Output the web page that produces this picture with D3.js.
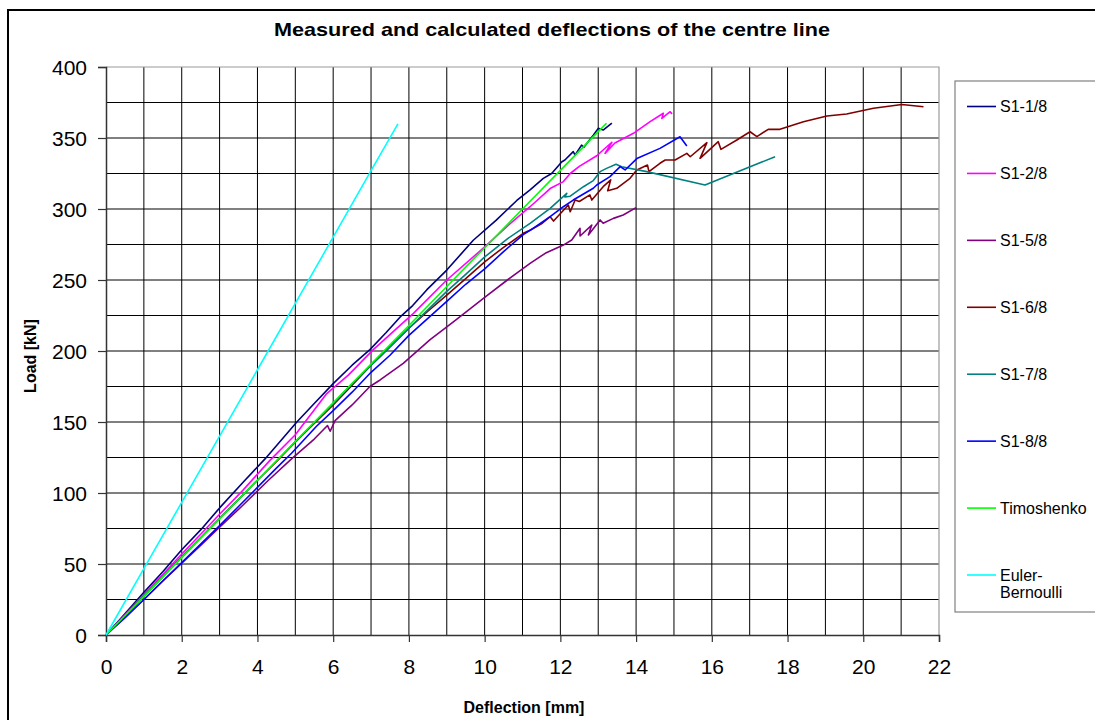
<!DOCTYPE html>
<html>
<head>
<meta charset="utf-8">
<script src="https://cdn.jsdelivr.net/npm/d3@7"></script>
<style>
  html, body { margin: 0; padding: 0; background: #fff; }
  svg { display: block; font-family: "Liberation Sans", Arial, sans-serif; }
</style>
</head>
<body>
<svg id="chart" width="1095" height="720"></svg>
<script>
// Load–deflection readings, [deflection mm, load kN]
const s1_1_8 = [[0,0],[0.5,15],[1,30],[1.5,44.5],[2,60],[2.5,74],[3,89.5],[3.67,109],[4.2,124],[5.04,150],[5.5,163],[6,177],[6.5,190],[6.97,201],[7.4,213],[7.77,224],[8.1,232],[8.47,243],[9,257],[9.7,278],[10.3,292],[10.85,306],[11.2,313.4],[11.55,321.6],[11.77,325],[12.04,333.3],[12.12,334.5],[12.34,340.4],[12.39,338],[12.56,345],[12.62,343.5],[12.87,352],[13.0,356.8],[13.13,355.6],[13.36,360.4]];
const s1_2_8 = [[0,0],[0.5,14],[1,28.5],[1.5,42.5],[2,57],[2.5,71],[3,85],[3.62,102],[4.33,123],[5,141],[5.83,170],[6.4,183],[7.06,201],[7.6,214],[8.12,226.5],[9,250],[10.01,273.5],[10.6,288],[11.2,301.6],[11.73,314.4],[12.08,319.3],[12.26,325],[12.5,330],[12.96,337.5],[13.36,347],[13.18,339.2],[13.44,346.5],[13.93,353.3],[14.37,361.5],[14.72,367.4],[14.68,363.8],[14.9,368.5],[14.95,367]];
const s1_5_8 = [[0,0],[0.5,12.5],[1,25],[1.5,38],[2,50.5],[2.5,63],[3,76],[3.6,91],[4.29,109],[4.9,124],[5.5,138],[5.85,147.5],[5.92,143.5],[6.05,151],[6.5,162],[6.97,175],[7.24,179.6],[7.85,191.3],[8.56,208],[9.2,221],[10.01,238],[10.6,250],[11.2,261.7],[11.6,268.8],[12.08,274.6],[12.3,278.2],[12.52,286.4],[12.52,281],[12.83,288.7],[12.74,281.7],[13.05,292.3],[13.13,290],[13.4,293.4],[13.66,295.8],[14.0,301]];
const s1_6_8 = [[0,0],[0.5,13.5],[1,27.5],[1.5,41],[2,55],[2.5,68.5],[3,82],[3.5,95.5],[4,109],[4.5,122],[5,136],[5.5,149],[6,162],[6.5,176],[7,190],[7.24,196],[8,216],[8.5,228],[9,239.4],[9.5,251],[10.01,263],[10.5,273],[11.02,282.9],[11.2,285],[11.5,289.5],[11.73,294.6],[11.82,291.5],[12.21,302.8],[12.26,298.1],[12.39,306.3],[12.5,305.3],[12.78,309.9],[12.83,306.3],[13.13,315.7],[13.33,320.5],[13.25,312.8],[13.49,314.6],[13.84,321.6],[14.02,327.5],[14.3,331],[14.34,326.3],[14.63,332.2],[14.77,334.5],[15.03,334.5],[15.34,339.2],[15.43,336.8],[15.87,346.7],[15.69,335.7],[16.17,347.4],[16.24,342],[16.66,348.6],[17.01,354.4],[17.19,351],[17.49,356.1],[17.8,356.1],[18.42,361.5],[19.04,365.5],[19.56,366.9],[20.27,370.9],[21.02,373.6],[21.59,372]];
const s1_7_8 = [[0,0],[0.5,13.5],[1,27.5],[1.5,41],[2,55],[2.5,68.5],[3,82],[3.5,95.5],[4,109],[4.5,122.5],[5,136],[5.5,149.5],[6,163],[6.5,177],[7,190],[7.5,203],[8,216],[8.5,229],[9,242],[9.5,254],[10.01,266.4],[10.6,279],[11.2,289.9],[11.73,300.5],[12.17,311],[12.12,308.5],[12.26,309],[12.61,315.7],[12.87,320],[13.05,326.3],[13.22,328.6],[13.47,331.5],[13.62,329.8],[14.28,326.3],[15.82,316.9],[17.67,336.8]];
const s1_8_8 = [[0,0],[0.5,12],[1,25],[1.5,38],[2,51],[2.5,64],[3,77],[3.5,90.5],[4,104],[4.5,117.5],[4.9,128],[5.56,147],[6,158],[6.5,171],[7,185],[7.5,197],[8,211],[8.5,223],[9,235],[9.5,247],[10.01,258],[10.5,270],[11.02,282],[11.2,285],[11.73,294.6],[12.08,301.6],[12.34,306.3],[12.87,314.6],[12.96,316.9],[13.31,322.8],[13.58,329.8],[13.71,327.5],[14.02,335.5],[14.63,342.7],[15.16,350.9],[15.34,344.4]];
const timoshenko = [[0,0],[1,27.2],[2,54.5],[3,81.8],[4,109],[5,136.3],[6,163.6],[7,190.8],[8,218],[9,245.4],[10,272.7],[11,300],[12,327.2],[13,354.5],[13.22,360.4]];
const eulerBernoulli = [[0,0],[1,46.7],[2,93.4],[3,140],[4,186.8],[5,233.5],[6,280.2],[7,327],[7.71,360]];

const seriesNames = ["S1-1/8","S1-2/8","S1-5/8","S1-6/8","S1-7/8","S1-8/8","Timoshenko","Euler-Bernoulli"];
const seriesData = [s1_1_8, s1_2_8, s1_5_8, s1_6_8, s1_7_8, s1_8_8, timoshenko, eulerBernoulli];
const seriesColors = ["#000080","#FF00FF","#800080","#800000","#008080","#0000FF","#00FF00","#00FFFF"];

const xTicks = [0,2,4,6,8,10,12,14,16,18,20,22];
const yTicks = [0,50,100,150,200,250,300,350,400];

const svg = d3.select("#chart");
const plotLeft = 106, plotRight = 939, plotTop = 67, plotBottom = 635;

const x = d3.scaleLinear().domain([0, 22]).range([plotLeft, plotRight]);
const y = d3.scaleLinear().domain([0, 400]).range([plotBottom, plotTop]);

// outer chart frame
svg.append("rect")
  .attr("x", 8).attr("y", 10).attr("width", 1100).attr("height", 720)
  .attr("fill", "none").attr("stroke", "#000").attr("stroke-width", 2);

// title
svg.append("text")
  .attr("x", 552).attr("y", 36)
  .attr("text-anchor", "middle")
  .attr("font-size", 19).attr("font-weight", "bold")
  .attr("textLength", 556).attr("lengthAdjust", "spacingAndGlyphs")
  .text("Measured and calculated deflections of the centre line");

// grid
const grid = svg.append("g").attr("stroke", "#000").attr("stroke-width", 1);
grid.selectAll("line.v").data(d3.range(1, 22)).join("line")
  .attr("x1", d => x(d)).attr("x2", d => x(d))
  .attr("y1", plotTop).attr("y2", plotBottom);
grid.selectAll("line.h").data(d3.range(25, 400, 25)).join("line")
  .attr("x1", plotLeft).attr("x2", plotRight)
  .attr("y1", d => y(d)).attr("y2", d => y(d));

// plot frame top/right
svg.append("path")
  .attr("d", `M${plotLeft},${plotTop}H${plotRight}V${plotBottom}`)
  .attr("fill", "none").attr("stroke", "#9a9a9a").attr("stroke-width", 1.2);

// axes
const xAxis = d3.axisBottom(x).tickValues(xTicks).tickSize(7).tickPadding(14).tickFormat(d3.format("d"));
const yAxis = d3.axisLeft(y).tickValues(yTicks).tickSize(8).tickPadding(11).tickFormat(d3.format("d"));

const gx = svg.append("g").attr("transform", `translate(0,${plotBottom})`).call(xAxis);
const gy = svg.append("g").attr("transform", `translate(${plotLeft},0)`).call(yAxis);
[gx, gy].forEach(g => {
  g.select(".domain").attr("stroke", "#333").attr("stroke-width", 1.5);
  g.selectAll(".tick line").attr("stroke", "#333").attr("stroke-width", 1.2);
  g.selectAll(".tick text").attr("fill", "#000").attr("font-size", 21)
    .attr("font-family", "Liberation Sans, Arial, sans-serif");
});
gx.selectAll(".tick text").attr("dy", "0.85em");
gy.selectAll(".tick text").attr("dy", "0.36em");

// axis titles
svg.append("text")
  .attr("x", 524).attr("y", 713)
  .attr("text-anchor", "middle")
  .attr("font-size", 16).attr("font-weight", "bold")
  .text("Deflection [mm]");
svg.append("text")
  .attr("transform", "translate(36,356) rotate(-90)")
  .attr("text-anchor", "middle")
  .attr("font-size", 16).attr("font-weight", "bold")
  .text("Load [kN]");

// series lines
const line = d3.line().x(d => x(d[0])).y(d => y(d[1]));
const plot = svg.append("g");
seriesData.forEach((data, i) => {
  plot.append("path")
    .datum(data)
    .attr("d", line)
    .attr("fill", "none")
    .attr("stroke", seriesColors[i])
    .attr("stroke-width", 1.6)
    .attr("stroke-linejoin", "round");
});

// legend
const legend = svg.append("g");
legend.append("rect")
  .attr("x", 955).attr("y", 81).attr("width", 160).attr("height", 531)
  .attr("fill", "#fff").attr("stroke", "#808080").attr("stroke-width", 1.2);

const legendY = d3.scaleLinear().domain([0, 7]).range([106.5, 575]);
seriesNames.forEach((name, i) => {
  const cy = legendY(i);
  legend.append("line")
    .attr("x1", 967).attr("x2", 996)
    .attr("y1", cy).attr("y2", cy)
    .attr("stroke", seriesColors[i]).attr("stroke-width", 1.6);
  const t = legend.append("text")
    .attr("x", 1000).attr("y", cy)
    .attr("font-size", 16);
  const parts = name === "Euler-Bernoulli" ? ["Euler-", "Bernoulli"] : [name];
  parts.forEach((p, k) => {
    t.append("tspan").attr("x", 1000).attr("dy", k === 0 ? "0.36em" : "1.05em").text(p);
  });
});
</script>
</body>
</html>
